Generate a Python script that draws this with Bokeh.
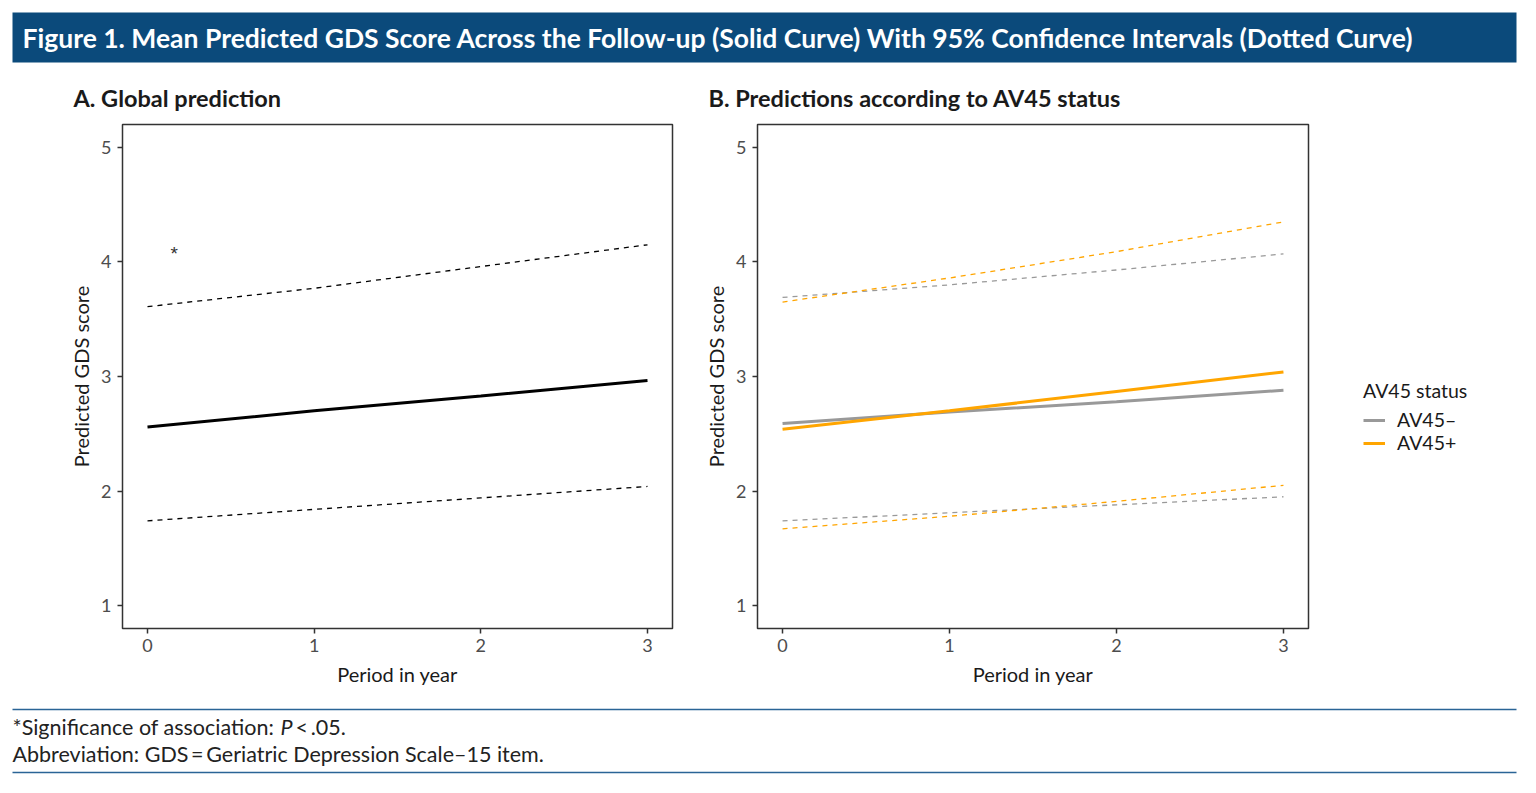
from bokeh.plotting import figure
from bokeh.layouts import column, row
from bokeh.models import Range1d, Legend, LegendItem, FixedTicker, Label, BoxAnnotation
from bokeh.embed import file_html
from bokeh.resources import INLINE

# ---- data ----
years = [0, 1, 2, 3]
global_mean = [2.56, 2.70, 2.83, 2.965]
global_upper = [3.61, 3.77, 3.96, 4.15]
global_lower = [1.74, 1.84, 1.94, 2.04]

neg_mean = [2.59, 2.69, 2.78, 2.88]
neg_upper = [3.69, 3.80, 3.93, 4.07]
neg_lower = [1.74, 1.81, 1.88, 1.95]

pos_mean = [2.54, 2.70, 2.87, 3.04]
pos_upper = [3.65, 3.86, 4.09, 4.35]
pos_lower = [1.67, 1.78, 1.91, 2.05]

x_ticks = [0, 1, 2, 3]
y_ticks = [1, 2, 3, 4, 5]
star_pos = (0.16, 4.07)
legend_labels = ["AV45–", "AV45+"]

FONT = "Lato"
NAVY = "#0b4a7b"
GRAY = "#999999"
ORANGE = "#ffa500"
W = 1530
NAN = float("nan")


def blank(width, height, y0, y1, **kw):
    opts = dict(min_border=0)
    opts.update(kw)
    p = figure(width=width, height=height, x_range=Range1d(0, width),
               y_range=Range1d(y1, y0), toolbar_location=None, output_backend="svg",
               x_axis_location=None, y_axis_location=None, **opts)
    p.grid.visible = False
    p.outline_line_color = None
    return p


# ---- header ----
head = blank(W, 112, 0, 112)
head.add_layout(BoxAnnotation(left=12, right=1516, top=12, bottom=62,
                              fill_color=NAVY, fill_alpha=1, line_color=None))
head.add_layout(Label(x=22, y=37, text="Figure 1. Mean Predicted GDS Score Across the Follow-up (Solid Curve) With 95% Confidence Intervals (Dotted Curve)",
                      text_baseline="middle", text_font=FONT, text_font_style="bold",
                      text_font_size="26.5px", text_color="white"))
head.add_layout(Label(x=73, y=97, text="A. Global prediction", text_baseline="middle",
                      text_font=FONT, text_font_style="bold", text_font_size="23.5px",
                      text_color="#1a1a1a"))
head.add_layout(Label(x=708, y=97, text="B. Predictions according to AV45 status",
                      text_baseline="middle", text_font=FONT, text_font_style="bold",
                      text_font_size="23.5px", text_color="#1a1a1a"))


def panel(width, left, right):
    p = figure(width=width, height=588, x_range=Range1d(-0.15, 3.15),
               y_range=Range1d(0.8, 5.2), toolbar_location=None, output_backend="svg",
               min_border_left=left, min_border_right=right, min_border_top=12,
               min_border_bottom=72)
    p.grid.visible = False
    p.outline_line_color = "#333333"
    p.outline_line_width = 1.5
    p.xaxis.ticker = FixedTicker(ticks=x_ticks)
    p.yaxis.ticker = FixedTicker(ticks=y_ticks)
    for ax in (p.xaxis[0], p.yaxis[0]):
        ax.axis_line_color = None
        ax.major_tick_line_color = "#333333"
        ax.major_tick_line_width = 1.5
        ax.major_tick_out = 5
        ax.major_tick_in = 0
        ax.minor_tick_line_color = None
        ax.major_label_text_font = FONT
        ax.major_label_text_font_size = "18px"
        ax.major_label_text_color = "#4d4d4d"
        ax.axis_label_text_font = FONT
        ax.axis_label_text_font_size = "20px"
        ax.axis_label_text_font_style = "normal"
        ax.axis_label_text_color = "#1a1a1a"
    p.xaxis.axis_label = "Period in year"
    p.yaxis.axis_label = "Predicted GDS score"
    p.xaxis.major_label_standoff = 5
    p.xaxis.axis_label_standoff = 7
    p.yaxis.major_label_standoff = 6
    p.yaxis.axis_label_standoff = 5
    return p


pA = panel(692, 122, 20)
pA.line(years, global_upper, line_color="black", line_width=1.3, line_dash="5 5")
pA.line(years, global_lower, line_color="black", line_width=1.3, line_dash="5 5")
pA.line(years, global_mean, line_color="black", line_width=3)
pA.text(x=[star_pos[0]], y=[star_pos[1]], text=["*"], text_align="center",
        text_baseline="middle", text_font_size="19px", text_color="#333333")

PB_W = 65 + 551 + 10
pB = panel(PB_W, 65, 10)
pB.line(years, neg_upper, line_color=GRAY, line_width=1.3, line_dash="5 5")
pB.line(years, pos_upper, line_color=ORANGE, line_width=1.3, line_dash="5 5")
pB.line(years, neg_lower, line_color=GRAY, line_width=1.3, line_dash="5 5")
pB.line(years, pos_lower, line_color=ORANGE, line_width=1.3, line_dash="5 5")
pB.line(years, neg_mean, line_color=GRAY, line_width=3)
pB.line(years, pos_mean, line_color=ORANGE, line_width=3)

# ---- legend area (separate canvas to the right of panel B, frame aligned with panels) ----
LG_W = W - 692 - PB_W
lg = blank(LG_W, 588, 0, 588, min_border_top=12, min_border_bottom=72)
k_neg = lg.line([NAN], [NAN], line_color=GRAY, line_width=3)
k_pos = lg.line([NAN], [NAN], line_color=ORANGE, line_width=3)
leg = Legend(items=[LegendItem(label=legend_labels[0], renderers=[k_neg]),
                    LegendItem(label=legend_labels[1], renderers=[k_pos])],
             title="AV45 status", location=(45, 174))
leg.title_text_font = FONT
leg.title_text_font_size = "19.5px"
leg.title_text_font_style = "normal"
leg.title_text_color = "#1a1a1a"
leg.title_standoff = 6
leg.label_text_font = FONT
leg.label_text_font_size = "19.5px"
leg.label_text_color = "#1a1a1a"
leg.glyph_width = 22
leg.glyph_height = 20
leg.label_height = 20
leg.spacing = 0
leg.label_standoff = 12
leg.padding = 0
leg.margin = 0
leg.border_line_color = None
leg.background_fill_alpha = 0
lg.add_layout(leg)

# ---- footer ----
foot = blank(W, 78, 700, 778)
foot.segment(x0=[12, 12], y0=[709, 772], x1=[1516, 1516], y1=[709, 772],
             line_color="#2a6496", line_width=1.5)
foot.add_layout(Label(x=12, y=726, text="*Significance of association:", text_baseline="middle",
                      text_font=FONT, text_font_size="21.5px", text_color="#222222"))
foot.add_layout(Label(x=280, y=726, text="P", text_baseline="middle", text_font=FONT,
                      text_font_style="italic", text_font_size="21.5px", text_color="#222222"))
foot.add_layout(Label(x=295, y=726, text="<\u2009.05.", text_baseline="middle", text_font=FONT,
                      text_font_size="21.5px", text_color="#222222"))
foot.add_layout(Label(x=12, y=753, text="Abbreviation: GDS\u2009=\u2009Geriatric Depression Scale\u201315 item.",
                      text_baseline="middle", text_font=FONT, text_font_size="21.5px",
                      text_color="#222222"))

layout = column(head, row(pA, pB, lg), foot)
open("out.html", "w").write(file_html(layout, INLINE))
